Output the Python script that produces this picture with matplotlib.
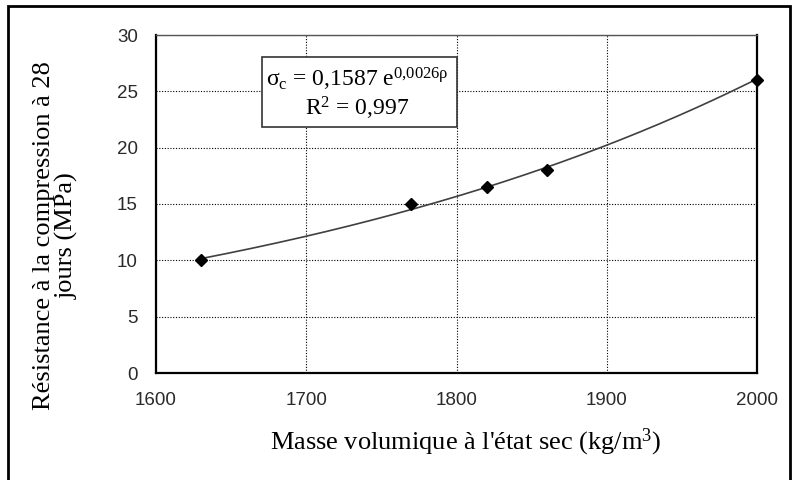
import numpy as np
import matplotlib
matplotlib.use('agg')
import matplotlib.pyplot as plt
from matplotlib.patches import Rectangle

plt.rcParams['mathtext.fontset'] = 'custom'
plt.rcParams['mathtext.rm'] = 'Liberation Serif'
plt.rcParams['mathtext.it'] = 'Liberation Serif'

# data
density = [1630, 1770, 1820, 1860, 2000]
strength = [10.0, 15.0, 16.5, 18.0, 26.0]
xticks = [1600, 1700, 1800, 1900, 2000]
yticks = [0, 5, 10, 15, 20, 25, 30]

serif = 'Liberation Serif'
sans = 'Liberation Sans'
W, H = 797., 480.

fig = plt.figure(figsize=(7.97, 4.8), dpi=100)
ax = fig.add_axes([156/W, 1 - 373/H, (757-156)/W, (373-35)/H])

# exponential trend line fitted on the points
b, lna = np.polyfit(density, np.log(strength), 1)
xf = np.linspace(min(density), max(density), 200)
ax.plot(xf, np.exp(lna) * np.exp(b * xf), color='#404040', lw=1.2, zorder=3)
ax.plot(density, strength, 'D', color='black', ms=6.5, zorder=4, clip_on=False)

ax.set_xlim(1600, 2000)
ax.set_ylim(0, 30)
ax.set_xticks(xticks)
ax.set_yticks(yticks)
ax.grid(True, color='black', ls=(0, (1, 1.5)), lw=0.8)
ax.tick_params(length=0, labelsize=13.5, labelcolor='#2a2a2a')
ax.tick_params(axis='y', pad=13)
ax.tick_params(axis='x', pad=14)
for lab in ax.get_xticklabels() + ax.get_yticklabels():
    lab.set_fontfamily(sans)
for s in ax.spines.values():
    s.set_linewidth(1.6)
    s.set_color('black')
ax.spines['top'].set_color('#555555')
ax.spines['top'].set_linewidth(1.0)

fig.text(466/W, 1 - 442/H, "Masse volumique à l'état sec (kg/m$^3$)",
         fontfamily=serif, fontsize=19, ha='center', va='center')
fig.text(56/W, 1 - 236/H, "Résistance à la compression à 28\njours (MPa)",
         fontfamily=serif, fontsize=19, ha='center', va='center',
         rotation=90, multialignment='center', linespacing=1.0)

box = Rectangle((262/W, 1 - 127/H), (457-262)/W, (127-57)/H,
                transform=fig.transFigure, facecolor='white', edgecolor='#333333',
                lw=1.2, zorder=5)
fig.patches.append(box)
fig.text(357/W, 1 - 79/H, r'σ$_{\mathrm{c}}$ = 0,1587 e$^{\mathrm{0{,}0026ρ}}$',
         fontfamily=serif, fontsize=17, ha='center', va='center', zorder=6)
fig.text(357/W, 1 - 108/H, r'R$^2$ = 0,997',
         fontfamily=serif, fontsize=17, ha='center', va='center', zorder=6)

frame = Rectangle((8/W, 1 - 482/H), (790-8)/W, (482-6)/H,
                  transform=fig.transFigure, fill=False, edgecolor='black', lw=2)
fig.patches.append(frame)

fig.savefig('out.png', dpi=100)
